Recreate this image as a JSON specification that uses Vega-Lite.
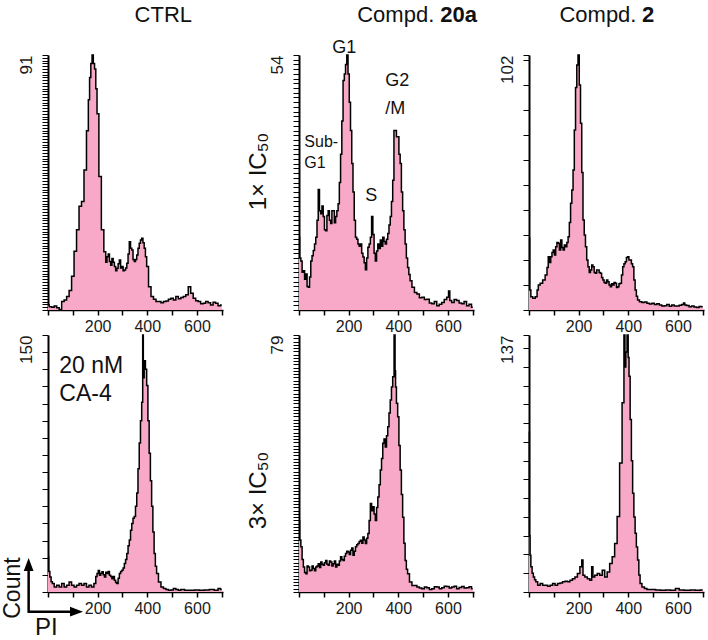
{
  "$schema": "https://vega.github.io/schema/vega-lite/v6.json",
  "padding": {"left": 2, "top": 3, "right": 0, "bottom": 0},
  "config": {
    "view": {"stroke": null},
    "font": "Liberation Sans",
    "axis": {"grid": false, "domainColor": "#000", "tickColor": "#000", "labelColor": "#1a1a1a", "labelFont": "Liberation Sans", "titleFont": "Liberation Sans", "titleFontWeight": "normal", "titleColor": "#111", "labelFlush": false, "labelOverlap": false},
    "axisX": {"domainWidth": 1.5, "tickWidth": 1.5, "tickSize": 5, "labelFontSize": 16, "labelPadding": 3},
    "axisY": {"domainWidth": 2, "tickWidth": 1, "tickSize": 6, "labelFontSize": 17, "labelAngle": 270, "labelAlign": "right", "labelBaseline": "bottom", "labelPadding": 7, "titleFontSize": 24, "titlePadding": -2},
    "text": {"font": "Liberation Sans", "color": "#111"}
  },
  "datasets": {
    "ctrl": [{"pi":0,"count":1.8},{"pi":10,"count":1.2},{"pi":20,"count":1},{"pi":30,"count":1.4},{"pi":40,"count":0.8},{"pi":50,"count":0.2},{"pi":60,"count":3},{"pi":70,"count":3.6},{"pi":80,"count":4.8},{"pi":90,"count":7},{"pi":100,"count":12},{"pi":110,"count":21},{"pi":120,"count":28.6},{"pi":130,"count":37},{"pi":140,"count":38.7},{"pi":150,"count":50},{"pi":160,"count":64},{"pi":165,"count":75},{"pi":170,"count":83},{"pi":175,"count":88},{"pi":180,"count":91},{"pi":185,"count":88},{"pi":190,"count":86},{"pi":195,"count":79},{"pi":200,"count":70},{"pi":210,"count":47.6},{"pi":220,"count":28.6},{"pi":230,"count":20.8},{"pi":235,"count":17},{"pi":240,"count":19},{"pi":245,"count":20},{"pi":250,"count":17.3},{"pi":255,"count":16},{"pi":260,"count":18.4},{"pi":265,"count":17},{"pi":270,"count":15.5},{"pi":275,"count":14},{"pi":280,"count":14.9},{"pi":285,"count":16.5},{"pi":290,"count":17.8},{"pi":295,"count":15},{"pi":300,"count":15.5},{"pi":305,"count":14},{"pi":310,"count":14.3},{"pi":315,"count":15},{"pi":320,"count":16.7},{"pi":325,"count":20},{"pi":330,"count":24.4},{"pi":335,"count":22},{"pi":340,"count":21.4},{"pi":345,"count":18},{"pi":350,"count":17.3},{"pi":355,"count":18},{"pi":360,"count":19.6},{"pi":365,"count":22},{"pi":370,"count":23.8},{"pi":375,"count":25},{"pi":380,"count":25.6},{"pi":385,"count":24},{"pi":390,"count":22},{"pi":395,"count":19},{"pi":400,"count":15.5},{"pi":410,"count":8.3},{"pi":420,"count":4.8},{"pi":430,"count":3.8},{"pi":440,"count":3},{"pi":450,"count":3},{"pi":460,"count":2.6},{"pi":470,"count":3},{"pi":480,"count":3.2},{"pi":490,"count":3.8},{"pi":500,"count":4.2},{"pi":510,"count":3.6},{"pi":520,"count":4.8},{"pi":530,"count":4},{"pi":540,"count":4.5},{"pi":550,"count":4.8},{"pi":560,"count":5.4},{"pi":570,"count":8.3},{"pi":580,"count":6},{"pi":590,"count":4.2},{"pi":600,"count":3.3},{"pi":610,"count":3},{"pi":620,"count":2.2},{"pi":630,"count":2.4},{"pi":640,"count":3},{"pi":650,"count":2.6},{"pi":660,"count":1.8},{"pi":670,"count":2.8},{"pi":680,"count":2.4},{"pi":690,"count":1.5},{"pi":700,"count":1.8}],
    "c20a_1x": [{"pi":0,"count":15.4},{"pi":5,"count":11},{"pi":10,"count":10.4},{"pi":15,"count":8},{"pi":20,"count":8.3},{"pi":25,"count":6.5},{"pi":30,"count":7.6},{"pi":35,"count":5},{"pi":40,"count":4.8},{"pi":45,"count":7},{"pi":50,"count":10.4},{"pi":55,"count":11.5},{"pi":60,"count":12.6},{"pi":65,"count":14},{"pi":70,"count":15.4},{"pi":75,"count":19},{"pi":80,"count":25.5},{"pi":85,"count":21},{"pi":90,"count":20.4},{"pi":95,"count":22},{"pi":100,"count":19.8},{"pi":105,"count":17},{"pi":110,"count":16.8},{"pi":115,"count":20},{"pi":120,"count":21},{"pi":125,"count":19},{"pi":130,"count":18.3},{"pi":135,"count":21},{"pi":140,"count":21},{"pi":145,"count":18.5},{"pi":150,"count":19.8},{"pi":155,"count":21},{"pi":160,"count":22.5},{"pi":165,"count":27},{"pi":170,"count":33},{"pi":175,"count":40},{"pi":180,"count":48.6},{"pi":185,"count":50},{"pi":190,"count":52},{"pi":195,"count":54},{"pi":200,"count":50},{"pi":205,"count":44},{"pi":210,"count":38},{"pi":215,"count":31},{"pi":220,"count":25},{"pi":225,"count":19},{"pi":230,"count":15.4},{"pi":235,"count":15},{"pi":240,"count":14},{"pi":245,"count":13.5},{"pi":250,"count":14},{"pi":255,"count":12},{"pi":260,"count":11.2},{"pi":265,"count":10},{"pi":270,"count":8.5},{"pi":275,"count":11},{"pi":280,"count":13.3},{"pi":285,"count":14},{"pi":290,"count":15.4},{"pi":295,"count":19.8},{"pi":300,"count":16},{"pi":305,"count":12},{"pi":310,"count":10.4},{"pi":315,"count":12.5},{"pi":320,"count":14},{"pi":325,"count":13},{"pi":330,"count":14.8},{"pi":335,"count":13.5},{"pi":340,"count":15.4},{"pi":345,"count":14.5},{"pi":350,"count":14},{"pi":355,"count":15},{"pi":360,"count":16.2},{"pi":365,"count":18},{"pi":370,"count":19.8},{"pi":375,"count":23},{"pi":380,"count":27.5},{"pi":385,"count":38},{"pi":390,"count":38},{"pi":395,"count":36.7},{"pi":400,"count":36.7},{"pi":405,"count":33},{"pi":410,"count":31},{"pi":415,"count":25},{"pi":420,"count":21},{"pi":425,"count":17},{"pi":430,"count":14},{"pi":435,"count":11},{"pi":440,"count":9},{"pi":445,"count":7.5},{"pi":450,"count":6.2},{"pi":460,"count":4.8},{"pi":470,"count":3.7},{"pi":480,"count":3.4},{"pi":490,"count":2.6},{"pi":500,"count":2.7},{"pi":510,"count":2.2},{"pi":520,"count":2.3},{"pi":530,"count":1.5},{"pi":540,"count":1.3},{"pi":550,"count":1.8},{"pi":560,"count":0.9},{"pi":570,"count":1.2},{"pi":580,"count":1.6},{"pi":590,"count":2.2},{"pi":600,"count":2.7},{"pi":605,"count":4},{"pi":610,"count":2},{"pi":620,"count":1.6},{"pi":630,"count":2.2},{"pi":640,"count":2},{"pi":650,"count":1.5},{"pi":660,"count":1.3},{"pi":670,"count":1.8},{"pi":680,"count":0.9},{"pi":690,"count":1.2},{"pi":700,"count":0.6}],
    "c2_1x": [{"pi":0,"count":28.7},{"pi":5,"count":8},{"pi":10,"count":5.3},{"pi":20,"count":4.7},{"pi":30,"count":5.3},{"pi":35,"count":8},{"pi":40,"count":10},{"pi":50,"count":10.7},{"pi":60,"count":12},{"pi":70,"count":14},{"pi":75,"count":17},{"pi":80,"count":21.3},{"pi":85,"count":19},{"pi":90,"count":21.3},{"pi":95,"count":23},{"pi":100,"count":24},{"pi":105,"count":22},{"pi":110,"count":25.3},{"pi":115,"count":27},{"pi":120,"count":26.7},{"pi":125,"count":24},{"pi":130,"count":28},{"pi":135,"count":25},{"pi":140,"count":24},{"pi":145,"count":26},{"pi":150,"count":25.3},{"pi":155,"count":27},{"pi":160,"count":29.3},{"pi":165,"count":35},{"pi":170,"count":42.7},{"pi":175,"count":48},{"pi":180,"count":56},{"pi":185,"count":72},{"pi":190,"count":89},{"pi":195,"count":98},{"pi":200,"count":102},{"pi":205,"count":90},{"pi":210,"count":74.7},{"pi":215,"count":55},{"pi":220,"count":36},{"pi":225,"count":30},{"pi":230,"count":25.3},{"pi":235,"count":20},{"pi":240,"count":17.3},{"pi":245,"count":15},{"pi":250,"count":16},{"pi":255,"count":18},{"pi":260,"count":17.3},{"pi":265,"count":15},{"pi":270,"count":14.7},{"pi":275,"count":16},{"pi":280,"count":16},{"pi":285,"count":15},{"pi":290,"count":14.7},{"pi":295,"count":13},{"pi":300,"count":12},{"pi":305,"count":11},{"pi":310,"count":10.7},{"pi":315,"count":12},{"pi":320,"count":11.3},{"pi":325,"count":10},{"pi":330,"count":9.3},{"pi":335,"count":10.5},{"pi":340,"count":10},{"pi":345,"count":11},{"pi":350,"count":10.7},{"pi":355,"count":9},{"pi":360,"count":9.3},{"pi":365,"count":10.5},{"pi":370,"count":10.7},{"pi":375,"count":14},{"pi":380,"count":17.3},{"pi":385,"count":18.5},{"pi":390,"count":19.3},{"pi":395,"count":21},{"pi":400,"count":21.3},{"pi":405,"count":20},{"pi":410,"count":20},{"pi":415,"count":18.5},{"pi":420,"count":17.3},{"pi":425,"count":12},{"pi":430,"count":8},{"pi":435,"count":5.5},{"pi":440,"count":4},{"pi":450,"count":3.3},{"pi":460,"count":3},{"pi":470,"count":3.2},{"pi":480,"count":2.7},{"pi":490,"count":2.4},{"pi":500,"count":2.7},{"pi":510,"count":2.2},{"pi":520,"count":2.5},{"pi":530,"count":2},{"pi":540,"count":1.6},{"pi":550,"count":1.7},{"pi":560,"count":2.2},{"pi":570,"count":1.5},{"pi":580,"count":2},{"pi":590,"count":1.6},{"pi":600,"count":1.6},{"pi":610,"count":1.9},{"pi":620,"count":2.2},{"pi":625,"count":2.8},{"pi":630,"count":2},{"pi":640,"count":1.8},{"pi":650,"count":1.3},{"pi":660,"count":1.6},{"pi":670,"count":1.2},{"pi":680,"count":1},{"pi":690,"count":1.4},{"pi":700,"count":1.3}],
    "ca4": [{"pi":0,"count":20.6},{"pi":5,"count":12},{"pi":10,"count":8.8},{"pi":15,"count":6},{"pi":20,"count":4.9},{"pi":30,"count":2.9},{"pi":40,"count":3.9},{"pi":50,"count":2.9},{"pi":60,"count":4.9},{"pi":70,"count":2.9},{"pi":80,"count":3.9},{"pi":90,"count":5.9},{"pi":100,"count":3.9},{"pi":110,"count":2.9},{"pi":120,"count":3.9},{"pi":130,"count":4.9},{"pi":140,"count":3.9},{"pi":150,"count":4.9},{"pi":160,"count":2.9},{"pi":170,"count":3.9},{"pi":180,"count":2.9},{"pi":190,"count":4.9},{"pi":195,"count":9},{"pi":200,"count":10.8},{"pi":205,"count":12.5},{"pi":210,"count":9.8},{"pi":215,"count":11},{"pi":220,"count":11.8},{"pi":225,"count":10},{"pi":230,"count":8.8},{"pi":235,"count":11.5},{"pi":240,"count":10.8},{"pi":245,"count":12},{"pi":250,"count":9.8},{"pi":255,"count":9},{"pi":260,"count":7.8},{"pi":265,"count":9},{"pi":270,"count":6.9},{"pi":275,"count":5.5},{"pi":280,"count":4.9},{"pi":285,"count":8},{"pi":290,"count":10.8},{"pi":295,"count":12},{"pi":300,"count":12.7},{"pi":305,"count":14},{"pi":310,"count":16.7},{"pi":315,"count":19},{"pi":320,"count":22.5},{"pi":325,"count":27},{"pi":330,"count":30.4},{"pi":335,"count":36},{"pi":340,"count":40},{"pi":345,"count":43},{"pi":350,"count":44},{"pi":355,"count":50},{"pi":360,"count":57.8},{"pi":365,"count":72},{"pi":370,"count":87},{"pi":375,"count":100},{"pi":380,"count":110.7},{"pi":383,"count":150},{"pi":385,"count":125},{"pi":390,"count":135},{"pi":395,"count":130},{"pi":400,"count":120.5},{"pi":405,"count":100},{"pi":410,"count":81},{"pi":415,"count":65},{"pi":420,"count":50},{"pi":425,"count":35},{"pi":430,"count":22.5},{"pi":435,"count":15},{"pi":440,"count":10.8},{"pi":450,"count":5.9},{"pi":460,"count":2.9},{"pi":470,"count":2},{"pi":480,"count":1.4},{"pi":490,"count":1},{"pi":500,"count":1.2},{"pi":510,"count":2},{"pi":520,"count":1.5},{"pi":530,"count":1},{"pi":540,"count":1.4},{"pi":560,"count":1},{"pi":580,"count":1},{"pi":600,"count":1.2},{"pi":620,"count":1},{"pi":640,"count":1.2},{"pi":660,"count":1.4},{"pi":680,"count":1},{"pi":690,"count":2},{"pi":700,"count":1.4}],
    "c20a_3x": [{"pi":0,"count":22},{"pi":5,"count":16},{"pi":10,"count":13.9},{"pi":15,"count":10},{"pi":20,"count":7.7},{"pi":25,"count":6},{"pi":30,"count":5.6},{"pi":35,"count":8},{"pi":40,"count":7.7},{"pi":45,"count":6.5},{"pi":50,"count":6.7},{"pi":55,"count":8},{"pi":60,"count":7.2},{"pi":65,"count":6.5},{"pi":70,"count":7.7},{"pi":75,"count":8},{"pi":80,"count":8.7},{"pi":85,"count":7.5},{"pi":90,"count":9.2},{"pi":95,"count":8.5},{"pi":100,"count":8.2},{"pi":105,"count":9},{"pi":110,"count":9.7},{"pi":115,"count":8.5},{"pi":120,"count":8.2},{"pi":125,"count":9.5},{"pi":130,"count":9.2},{"pi":135,"count":8},{"pi":140,"count":8.7},{"pi":145,"count":9.5},{"pi":150,"count":7.7},{"pi":155,"count":8.5},{"pi":160,"count":8.2},{"pi":165,"count":9.5},{"pi":170,"count":10.8},{"pi":175,"count":10},{"pi":180,"count":9.7},{"pi":185,"count":11},{"pi":190,"count":11.8},{"pi":195,"count":12.5},{"pi":200,"count":12.3},{"pi":205,"count":11.5},{"pi":210,"count":12.8},{"pi":215,"count":13.5},{"pi":220,"count":11.3},{"pi":225,"count":12.5},{"pi":230,"count":13.9},{"pi":235,"count":14.5},{"pi":240,"count":14.9},{"pi":245,"count":15.5},{"pi":250,"count":15.9},{"pi":255,"count":15},{"pi":260,"count":16.9},{"pi":265,"count":16},{"pi":270,"count":14.9},{"pi":275,"count":16.5},{"pi":280,"count":18},{"pi":285,"count":22},{"pi":290,"count":27.2},{"pi":295,"count":25},{"pi":300,"count":26.2},{"pi":305,"count":24},{"pi":310,"count":22},{"pi":315,"count":26},{"pi":320,"count":29.2},{"pi":325,"count":33},{"pi":330,"count":37.5},{"pi":335,"count":41},{"pi":340,"count":45.7},{"pi":345,"count":47},{"pi":350,"count":44.6},{"pi":355,"count":48},{"pi":360,"count":50.8},{"pi":365,"count":55},{"pi":370,"count":59},{"pi":375,"count":63},{"pi":380,"count":66.2},{"pi":386,"count":79},{"pi":388,"count":68},{"pi":390,"count":63},{"pi":395,"count":58},{"pi":400,"count":53.9},{"pi":405,"count":45},{"pi":410,"count":37.5},{"pi":415,"count":30},{"pi":420,"count":23},{"pi":425,"count":15},{"pi":430,"count":9.7},{"pi":435,"count":7},{"pi":440,"count":5.6},{"pi":450,"count":3.1},{"pi":460,"count":2},{"pi":470,"count":2},{"pi":480,"count":1.5},{"pi":490,"count":1.2},{"pi":500,"count":1},{"pi":510,"count":1.5},{"pi":520,"count":1.3},{"pi":530,"count":0.8},{"pi":540,"count":1},{"pi":550,"count":1.6},{"pi":560,"count":1.5},{"pi":570,"count":1},{"pi":580,"count":1.3},{"pi":590,"count":1.8},{"pi":600,"count":1.7},{"pi":610,"count":1.2},{"pi":620,"count":1.5},{"pi":630,"count":1.8},{"pi":640,"count":1},{"pi":650,"count":1.4},{"pi":660,"count":1.7},{"pi":670,"count":1.2},{"pi":680,"count":1.3},{"pi":690,"count":1.6},{"pi":700,"count":1}],
    "c2_3x": [{"pi":0,"count":85.7},{"pi":3,"count":30},{"pi":5,"count":19.6},{"pi":10,"count":13.4},{"pi":15,"count":10},{"pi":20,"count":8},{"pi":25,"count":6.5},{"pi":30,"count":5.4},{"pi":40,"count":3.6},{"pi":50,"count":4.5},{"pi":60,"count":3.6},{"pi":70,"count":3.6},{"pi":80,"count":3},{"pi":90,"count":3.6},{"pi":100,"count":4.5},{"pi":110,"count":3.6},{"pi":120,"count":4.5},{"pi":130,"count":4.8},{"pi":140,"count":5.4},{"pi":150,"count":5.7},{"pi":160,"count":5.4},{"pi":170,"count":6.3},{"pi":180,"count":7.1},{"pi":190,"count":8},{"pi":200,"count":9.8},{"pi":210,"count":13.4},{"pi":215,"count":17},{"pi":220,"count":8.9},{"pi":230,"count":8},{"pi":240,"count":7.1},{"pi":250,"count":6.3},{"pi":255,"count":13.4},{"pi":260,"count":8},{"pi":270,"count":8.9},{"pi":280,"count":9.8},{"pi":290,"count":8.9},{"pi":300,"count":11.6},{"pi":310,"count":8},{"pi":320,"count":10.7},{"pi":330,"count":15.2},{"pi":340,"count":18.8},{"pi":350,"count":25.9},{"pi":360,"count":40.2},{"pi":370,"count":68.8},{"pi":380,"count":100.9},{"pi":385,"count":137},{"pi":388,"count":120},{"pi":392,"count":128},{"pi":398,"count":137},{"pi":401,"count":125},{"pi":405,"count":115},{"pi":410,"count":92},{"pi":415,"count":70},{"pi":420,"count":52.7},{"pi":425,"count":40},{"pi":430,"count":31.3},{"pi":435,"count":24},{"pi":440,"count":17},{"pi":445,"count":9},{"pi":450,"count":4.5},{"pi":460,"count":2.7},{"pi":470,"count":1.8},{"pi":480,"count":1.3},{"pi":500,"count":1.3},{"pi":520,"count":1},{"pi":540,"count":0.9},{"pi":560,"count":1},{"pi":580,"count":0.9},{"pi":600,"count":1.8},{"pi":610,"count":1},{"pi":640,"count":0.9},{"pi":660,"count":1},{"pi":680,"count":0.9},{"pi":700,"count":1}]
  },
  "spacing": 20,
  "hconcat": [
    {
      "spacing": -2,
      "vconcat": [
        {
          "width": 175, "height": 255,
          "resolve": {"axis": {"x": "independent", "y": "independent"}},
          "layer": [
            {"data": {"name": "ctrl"},
             "mark": {"type": "area", "interpolate": "step", "color": "#f7a9c7", "opacity": 1, "line": {"color": "#000", "strokeWidth": 1.5}},
             "encoding": {
               "x": {"field": "pi", "type": "quantitative", "scale": {"domain": [0, 705], "nice": false, "zero": false}, "axis": {"values": [0,100,200,300,400,500,600,700], "labelExpr": "datum.value == 200 || datum.value == 400 || datum.value == 600 ? datum.label : ''", "title": null}},
               "y": {"field": "count", "type": "quantitative", "scale": {"domain": [0, 91], "nice": false}, "axis": {"values": [0,1,2,3,4,5,6,7,8,9,10,11,12,13,14,15,16,17,18,19,20,21,22,23,24,25,26,27,28,29,30,31,32,33,34,35,36,37,38,39,40,41,42,43,44,45,46,47,48,49,50,51,52,53,54,55,56,57,58,59,60,61,62,63,64,65,66,67,68,69,70,71,72,73,74,75,76,77,78,79,80,81,82,83,84,85,86,87,88,89,90,91], "labelExpr": "datum.value == 91 ? '91' : ''", "title": null}}
             }},
            {"data": {"values": [{}]}, "mark": {"type": "text", "text": "CTRL", "fontSize": 22, "align": "center", "baseline": "alphabetic"},
             "encoding": {"x": {"datum": 464.5, "type": "quantitative", "axis": null}, "y": {"datum": 102.8, "type": "quantitative", "axis": null}}}
          ]
        },
        {
          "width": 175, "height": 257,
          "resolve": {"axis": {"x": "independent", "y": "independent"}},
          "layer": [
            {"data": {"name": "ca4"},
             "mark": {"type": "area", "interpolate": "step", "color": "#f7a9c7", "opacity": 1, "line": {"color": "#000", "strokeWidth": 1.5}},
             "encoding": {
               "x": {"field": "pi", "type": "quantitative", "scale": {"domain": [0, 705], "nice": false, "zero": false}, "axis": {"values": [0,100,200,300,400,500,600,700], "labelExpr": "datum.value == 200 || datum.value == 400 || datum.value == 600 ? datum.label : ''", "title": null}},
               "y": {"field": "count", "type": "quantitative", "scale": {"domain": [0, 150], "nice": false}, "axis": {"values": [0,10,20,30,40,50,60,70,80,90,100,110,120,130,140,150], "labelExpr": "datum.value == 150 ? '150' : ''", "title": null}}
             }},
            {"data": {"values": [{}]}, "mark": {"type": "text", "text": ["20 nM", "CA-4"], "fontSize": 23, "align": "left", "baseline": "alphabetic", "lineHeight": 28},
             "encoding": {"x": {"datum": 45.5, "type": "quantitative", "axis": null}, "y": {"datum": 127.6, "type": "quantitative", "axis": null}}},
            {"data": {"values": [{}]}, "mark": {"type": "rule", "color": "#000", "strokeWidth": 2.5},
             "encoding": {"x": {"datum": -78, "type": "quantitative", "axis": null}, "y": {"datum": -12.2, "type": "quantitative", "axis": null}, "y2": {"datum": 13}}},
            {"data": {"values": [{}]}, "mark": {"type": "rule", "color": "#000", "strokeWidth": 2.5},
             "encoding": {"x": {"datum": -80, "type": "quantitative", "axis": null}, "x2": {"datum": 110}, "y": {"datum": -11.5, "type": "quantitative", "axis": null}}},
            {"data": {"values": [{}]}, "mark": {"type": "point", "shape": "M0,-1L0.75,1L-0.75,1Z", "filled": true, "size": 169, "color": "#000", "opacity": 1},
             "encoding": {"x": {"datum": -78, "type": "quantitative", "axis": null}, "y": {"datum": 16, "type": "quantitative", "axis": null}}},
            {"data": {"values": [{}]}, "mark": {"type": "point", "shape": "M1,0L-1,-0.75L-1,0.75Z", "filled": true, "size": 169, "color": "#000", "opacity": 1},
             "encoding": {"x": {"datum": 114.8, "type": "quantitative", "axis": null}, "y": {"datum": -11.5, "type": "quantitative", "axis": null}}},
            {"data": {"values": [{}]}, "mark": {"type": "text", "text": "Count", "fontSize": 23, "angle": 270, "align": "center", "baseline": "middle"},
             "encoding": {"x": {"datum": -140, "type": "quantitative", "axis": null}, "y": {"datum": 2.3, "type": "quantitative", "axis": null}}},
            {"data": {"values": [{}]}, "mark": {"type": "text", "text": "PI", "fontSize": 24, "align": "center", "baseline": "middle"},
             "encoding": {"x": {"datum": -6.9, "type": "quantitative", "axis": null}, "y": {"datum": -21.3, "type": "quantitative", "axis": null}}}
          ]
        }
      ]
    },
    {
      "spacing": 20,
      "hconcat": [
        {
          "spacing": -2,
          "vconcat": [
            {
              "width": 175, "height": 255,
              "resolve": {"axis": {"x": "independent", "y": "independent"}},
              "layer": [
                {"data": {"name": "c20a_1x"},
                 "mark": {"type": "area", "interpolate": "step", "color": "#f7a9c7", "opacity": 1, "line": {"color": "#000", "strokeWidth": 1.5}},
                 "encoding": {
                   "x": {"field": "pi", "type": "quantitative", "scale": {"domain": [0, 705], "nice": false, "zero": false}, "axis": {"values": [0,100,200,300,400,500,600,700], "labelExpr": "datum.value == 200 || datum.value == 400 || datum.value == 600 ? datum.label : ''", "title": null}},
                   "y": {"field": "count", "type": "quantitative", "scale": {"domain": [0, 54], "nice": false}, "axis": {"values": [0,1,2,3,4,5,6,7,8,9,10,11,12,13,14,15,16,17,18,19,20,21,22,23,24,25,26,27,28,29,30,31,32,33,34,35,36,37,38,39,40,41,42,43,44,45,46,47,48,49,50,51,52,53,54], "labelExpr": "datum.value == 54 ? '54' : ''", "title": "1× IC₅₀", "titleY": 116}}
                 }},
                {"data": {"values": [{}]}, "mark": {"type": "text", "text": "Compd.", "fontSize": 22, "align": "right", "baseline": "alphabetic"},
                 "encoding": {"x": {"datum": 545, "type": "quantitative", "axis": null}, "y": {"datum": 61, "type": "quantitative", "axis": null}}},
                {"data": {"values": [{}]}, "mark": {"type": "text", "text": "20a", "fontSize": 22, "fontWeight": "bold", "align": "left", "baseline": "alphabetic"},
                 "encoding": {"x": {"datum": 569, "type": "quantitative", "axis": null}, "y": {"datum": 61, "type": "quantitative", "axis": null}}},
                {"data": {"values": [{}]}, "mark": {"type": "text", "text": "G1", "fontSize": 18, "align": "center", "baseline": "alphabetic"},
                 "encoding": {"x": {"datum": 182.5, "type": "quantitative", "axis": null}, "y": {"datum": 54.4, "type": "quantitative", "axis": null}}},
                {"data": {"values": [{}]}, "mark": {"type": "text", "text": ["G2", "/M"], "fontSize": 18, "align": "left", "baseline": "alphabetic", "lineHeight": 28},
                 "encoding": {"x": {"datum": 347, "type": "quantitative", "axis": null}, "y": {"datum": 47.4, "type": "quantitative", "axis": null}}},
                {"data": {"values": [{}]}, "mark": {"type": "text", "text": ["Sub-", "G1"], "fontSize": 16, "align": "left", "baseline": "alphabetic", "lineHeight": 21},
                 "encoding": {"x": {"datum": 21.5, "type": "quantitative", "axis": null}, "y": {"datum": 34.5, "type": "quantitative", "axis": null}}},
                {"data": {"values": [{}]}, "mark": {"type": "text", "text": "S", "fontSize": 18, "align": "center", "baseline": "alphabetic"},
                 "encoding": {"x": {"datum": 291, "type": "quantitative", "axis": null}, "y": {"datum": 23.1, "type": "quantitative", "axis": null}}}
              ]
            },
            {
              "width": 175, "height": 257,
              "layer": [
                {"data": {"name": "c20a_3x"},
                 "mark": {"type": "area", "interpolate": "step", "color": "#f7a9c7", "opacity": 1, "line": {"color": "#000", "strokeWidth": 1.5}},
                 "encoding": {
                   "x": {"field": "pi", "type": "quantitative", "scale": {"domain": [0, 705], "nice": false, "zero": false}, "axis": {"values": [0,100,200,300,400,500,600,700], "labelExpr": "datum.value == 200 || datum.value == 400 || datum.value == 600 ? datum.label : ''", "title": null}},
                   "y": {"field": "count", "type": "quantitative", "scale": {"domain": [0, 79], "nice": false}, "axis": {"values": [0,1,2,3,4,5,6,7,8,9,10,11,12,13,14,15,16,17,18,19,20,21,22,23,24,25,26,27,28,29,30,31,32,33,34,35,36,37,38,39,40,41,42,43,44,45,46,47,48,49,50,51,52,53,54,55,56,57,58,59,60,61,62,63,64,65,66,67,68,69,70,71,72,73,74,75,76,77,78,79], "labelExpr": "datum.value == 79 ? '79' : ''", "title": "3× IC₅₀", "titleY": 155}}
                 }}
              ]
            }
          ]
        },
        {
          "spacing": -2,
          "vconcat": [
            {
              "width": 175, "height": 255,
              "resolve": {"axis": {"x": "independent", "y": "independent"}},
              "layer": [
                {"data": {"name": "c2_1x"},
                 "mark": {"type": "area", "interpolate": "step", "color": "#f7a9c7", "opacity": 1, "line": {"color": "#000", "strokeWidth": 1.5}},
                 "encoding": {
                   "x": {"field": "pi", "type": "quantitative", "scale": {"domain": [0, 705], "nice": false, "zero": false}, "axis": {"values": [0,100,200,300,400,500,600,700], "labelExpr": "datum.value == 200 || datum.value == 400 || datum.value == 600 ? datum.label : ''", "title": null}},
                   "y": {"field": "count", "type": "quantitative", "scale": {"domain": [0, 102], "nice": false}, "axis": {"values": [0,10,20,30,40,50,60,70,80,90,100,102], "labelExpr": "datum.value == 102 ? '102' : ''", "title": null}}
                 }},
                {"data": {"values": [{}]}, "mark": {"type": "text", "text": "Compd.", "fontSize": 22, "align": "right", "baseline": "alphabetic"},
                 "encoding": {"x": {"datum": 433, "type": "quantitative", "axis": null}, "y": {"datum": 115.2, "type": "quantitative", "axis": null}}},
                {"data": {"values": [{}]}, "mark": {"type": "text", "text": "2", "fontSize": 22, "fontWeight": "bold", "align": "left", "baseline": "alphabetic"},
                 "encoding": {"x": {"datum": 455, "type": "quantitative", "axis": null}, "y": {"datum": 115.2, "type": "quantitative", "axis": null}}}
              ]
            },
            {
              "width": 175, "height": 257,
              "layer": [
                {"data": {"name": "c2_3x"},
                 "mark": {"type": "area", "interpolate": "step", "color": "#f7a9c7", "opacity": 1, "line": {"color": "#000", "strokeWidth": 1.5}},
                 "encoding": {
                   "x": {"field": "pi", "type": "quantitative", "scale": {"domain": [0, 705], "nice": false, "zero": false}, "axis": {"values": [0,100,200,300,400,500,600,700], "labelExpr": "datum.value == 200 || datum.value == 400 || datum.value == 600 ? datum.label : ''", "title": null}},
                   "y": {"field": "count", "type": "quantitative", "scale": {"domain": [0, 137], "nice": false}, "axis": {"values": [0,10,20,30,40,50,60,70,80,90,100,110,120,130,137], "labelExpr": "datum.value == 137 ? '137' : ''", "title": null}}
                 }}
              ]
            }
          ]
        }
      ]
    }
  ]
}
